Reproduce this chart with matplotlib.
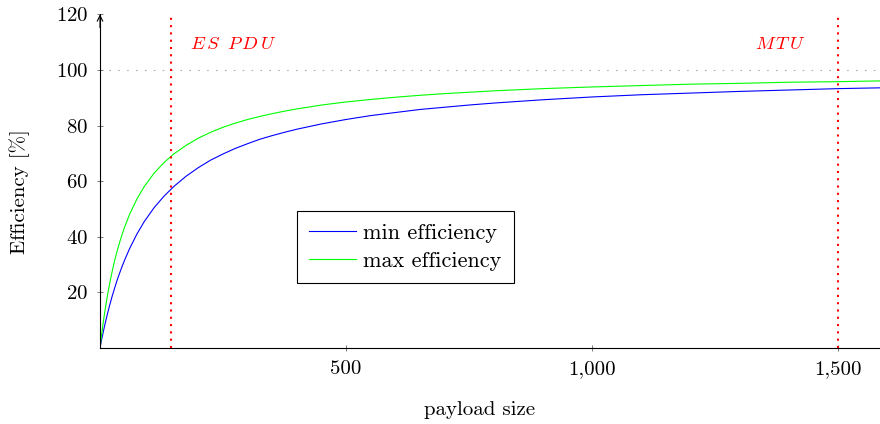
import matplotlib
matplotlib.use("Agg")
import matplotlib.pyplot as plt

# values
payload = [0, 2.5, 5, 7.5, 10, 15, 20, 25, 30, 35, 40, 45, 50, 60, 75, 90, 110,
           130, 150, 175, 200, 225, 250, 275, 300, 325, 350, 375, 400, 450,
           500, 550, 600, 650, 700, 750, 800, 900, 1000, 1100, 1200, 1300,
           1400, 1500, 1590]
min_eff = [0, 2.3, 4.4, 6.5, 8.5, 12.2, 15.6, 18.8, 21.7, 24.5, 27.0, 29.4,
           31.6, 35.7, 41.0, 45.5, 50.5, 54.6, 58.1, 61.8, 64.9, 67.6, 69.8,
           71.8, 73.5, 75.1, 76.4, 77.6, 78.7, 80.6, 82.2, 83.6, 84.7, 85.8,
           86.6, 87.4, 88.1, 89.3, 90.3, 91.1, 91.7, 92.3, 92.8, 93.3, 93.6]
max_eff = [0, 3.7, 7.1, 10.3, 13.3, 18.8, 23.5, 27.8, 31.6, 35.0, 38.1, 40.9,
           43.5, 48.0, 53.6, 58.1, 62.9, 66.7, 69.8, 72.9, 75.5, 77.6, 79.4,
           80.9, 82.2, 83.3, 84.3, 85.2, 86.0, 87.4, 88.5, 89.4, 90.2, 90.9,
           91.5, 92.0, 92.5, 93.3, 93.9, 94.4, 94.9, 95.2, 95.6, 95.8, 96.1]

es_pdu = 144
mtu = 1500
xticks = [500, 1000, 1500]
xticklabels = ["500", "1,000", "1,500"]
yticks = [20, 40, 60, 80, 100, 120]

plt.rcParams['font.family'] = ['cmr10', 'DejaVu Serif']
plt.rcParams['mathtext.fontset'] = 'cm'
plt.rcParams['axes.unicode_minus'] = False
plt.rcParams['axes.formatter.use_mathtext'] = True

fig = plt.figure(figsize=(8.8, 4.24), dpi=100)
ax = fig.add_axes([100/880, 76/424, 780/880, 333.6/424])

ax.plot(payload, min_eff, color='#0000ff', lw=0.8, label='min efficiency')
ax.plot(payload, max_eff, color='#00ff00', lw=0.8, label='max efficiency')

ax.axhline(100, color='#aaaaaa', lw=0.8, linestyle=(0, (1.4, 6.6)), zorder=0)
ax.axvline(es_pdu, color='red', lw=1.5, linestyle=(0, (1, 2.5)))
ax.axvline(mtu, color='red', lw=1.5, linestyle=(0, (1, 2.5)))

# letter-spaced italic labels like the reference
ax.text(183, 109.3, r'$E\,S\;\;P\,D\,U$', color='red', fontsize=13.5,
        va='center', ha='left')
ax.text(1382, 109.3, r'$M\,T\,U$', color='red', fontsize=13.5,
        va='center', ha='center')

ax.set_xlim(0, 1585)
ax.set_ylim(0, 120)
ax.set_xticks(xticks)
ax.set_xticklabels(xticklabels)
ax.set_yticks(yticks)

for s in ['top', 'right']:
    ax.spines[s].set_visible(False)
for s in ['left', 'bottom']:
    ax.spines[s].set_linewidth(0.8)

ax.tick_params(direction='inout', length=5, width=0.6, color='#666666',
               labelsize=15, pad=6)
ax.annotate('', xy=(0, 1.0), xytext=(0, 0.96), xycoords='axes fraction',
            arrowprops=dict(arrowstyle='->', lw=0.8, color='black',
                            shrinkA=0, shrinkB=0))

ax.set_xlabel('payload size', fontsize=15)
ax.xaxis.set_label_coords(0.487, -0.16)
ax.set_ylabel('Efficiency [%]', fontsize=15)
ax.yaxis.set_label_coords(-0.09, 0.47)

leg = ax.legend(loc='upper left', bbox_to_anchor=(0.2526, 0.41), fontsize=16,
                frameon=True, fancybox=False, framealpha=1, borderaxespad=0,
                handlelength=2.1, handletextpad=0.35, borderpad=0.54,
                labelspacing=0.37)
leg.get_frame().set_edgecolor('black')
leg.get_frame().set_linewidth(0.8)

fig.savefig('out.png', dpi=100)
